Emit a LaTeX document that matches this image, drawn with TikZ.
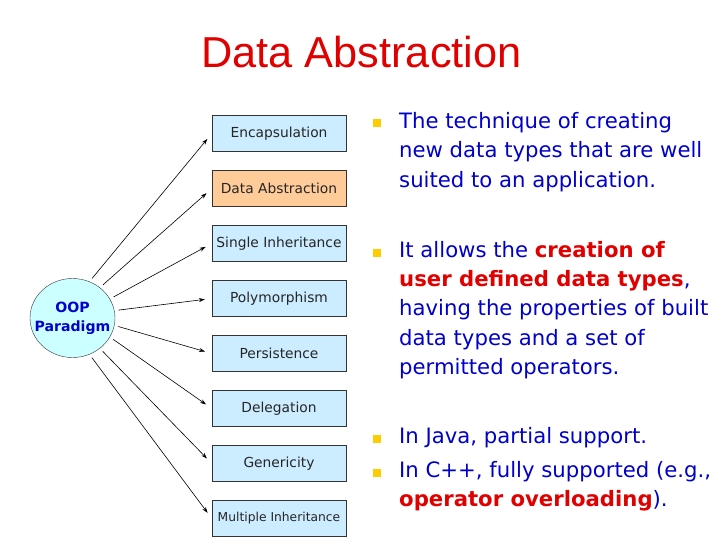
\documentclass[tikz,border=0pt]{standalone}
\usepackage{fontspec}
\setmainfont{DejaVu Sans}
\newfontfamily\titlefont{Liberation Sans}
\usepackage{tikz}
\usetikzlibrary{positioning}
\usetikzlibrary{shapes.geometric}
\usetikzlibrary{arrows.meta}

\definecolor{boxblue}{HTML}{CCECFF}
\definecolor{boxorange}{HTML}{FFCC99}
\definecolor{circcyan}{HTML}{CCFFFF}
\definecolor{textblue}{HTML}{0000CC}
\definecolor{hotred}{HTML}{E00000}
\definecolor{bulletyellow}{HTML}{FFCC00}
\definecolor{edgegray}{HTML}{333333}

\tikzset{
    feature/.style={draw=edgegray, fill=boxblue, minimum width=134, minimum height=36, inner sep=0, font=\fontsize{13.8}{16}\selectfont, text=black!85},
    link/.style={-{Stealth[length=6pt, width=4pt]}, line width=0.6pt, shorten >=7pt, shorten <=4pt},
    bulletsq/.style={fill=bulletyellow, minimum size=8, inner sep=0},
    bullettext/.style={anchor=north west, inner sep=0, align=left, text=textblue, font=\fontsize{21.2}{29.3}\selectfont}
}

\begin{document}
\begin{tikzpicture}[x=1pt, y=1pt, node distance=18.6pt]
        \useasboundingbox (0, 0) rectangle (728, -546);
        \node(title) [text=hotred, font=\titlefont\fontsize{43.3}{50}\selectfont] at (361.5, -52) {Data Abstraction};

        \node(oop) [draw=edgegray, fill=circcyan, ellipse, minimum width=85, minimum height=79, inner xsep=-8pt, inner ysep=0, align=center, text=textblue, font=\bfseries\fontsize{14.1}{19}\selectfont] at (72.5, -318) {OOP\\Paradigm};

        \node(encap) [feature] at (279, -133.5) {Encapsulation};
        \node(dataabs) [feature, fill=boxorange, below= of encap] {Data Abstraction};
        \node(single) [feature, below= of dataabs] {Single Inheritance};
        \node(poly) [feature, below= of single] {Polymorphism};
        \node(persist) [feature, below= of poly] {Persistence};
        \node(deleg) [feature, below= of persist] {Delegation};
        \node(generic) [feature, below= of deleg] {Genericity};
        \node(multi) [feature, font=\fontsize{12.3}{15}\selectfont, below= of generic] {Multiple Inheritance};

        \draw[link] (oop.65) -- (encap.west);
        \draw[link] (oop.48) -- (dataabs.west);
        \draw[link] (oop.27) -- (single.west);
        \draw[link] (oop.10) -- (poly.west);
        \draw[link] (oop.-10) -- (persist.west);
        \draw[link] (oop.-27) -- (deleg.west);
        \draw[link] (oop.-48) -- (generic.west);
        \draw[link] (oop.-65) -- (multi.west);

        \node(sq1) [bulletsq] at (377, -122.5) {};
        \node(sq2) [bulletsq] at (377, -253) {};
        \node(sq3) [bulletsq] at (377, -439) {};
        \node(sq4) [bulletsq] at (377, -473) {};
        \node(txt1) [bullettext] at (399, -112.2) {The technique of creating\\new data types that are well\\suited to an application.};
        \node(txt2) [bullettext] at (399, -241) {It allows the \textcolor{hotred}{\bfseries creation of}\\\textcolor{hotred}{\bfseries user defined data types},\\having the properties of built\\data types and a set of\\permitted operators.};
        \node(txt3) [bullettext] at (399, -427) {In Java, partial support.};
        \node(txt4) [bullettext] at (399, -461) {In C++, fully supported (e.g.,\\\textcolor{hotred}{\bfseries operator overloading}).};
    \end{tikzpicture}
\end{document}
